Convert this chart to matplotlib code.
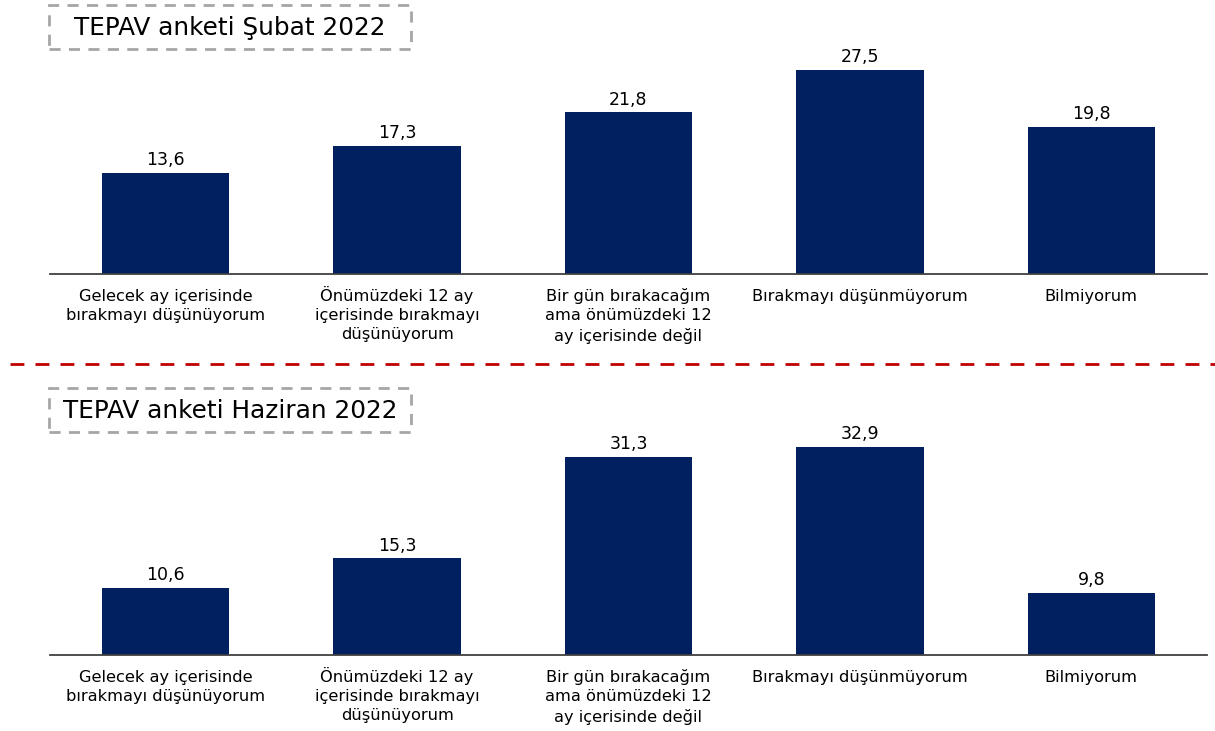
import matplotlib
matplotlib.use("Agg")
import matplotlib.pyplot as plt
from matplotlib.patches import Rectangle
from matplotlib.transforms import ScaledTranslation

# Survey answers (same categories in both panels)
categories = [
    "Gelecek ay içerisinde\nbırakmayı düşünüyorum",
    "Önümüzdeki 12 ay\niçerisinde bırakmayı\ndüşünüyorum",
    "Bir gün bırakacağım\nama önümüzdeki 12\nay içerisinde değil",
    "Bırakmayı düşünmüyorum",
    "Bilmiyorum",
]
values_feb = [13.6, 17.3, 21.8, 27.5, 19.8]
values_jun = [10.6, 15.3, 31.3, 32.9, 9.8]
titles = ["TEPAV anketi Şubat 2022", "TEPAV anketi Haziran 2022"]

BAR_COLOR = "#002060"
W, H = 1215, 731

fig = plt.figure(figsize=(W / 100, H / 100), dpi=100)


def fx(px):
    return px / W


def fy(py):
    # pixel row from top -> figure fraction from bottom
    return 1 - py / H


def panel(values, title, base_px, ymax, box_top):
    ax = fig.add_axes([fx(50), fy(base_px), fx(1157), 234 / H])
    x = range(len(values))
    bars = ax.bar(x, values, width=0.55, color=BAR_COLOR)
    ax.set_xlim(-0.5, len(values) - 0.5)
    ax.set_ylim(0, ymax)
    for b, v in zip(bars, values):
        ax.annotate(f"{v:.1f}".replace(".", ","),
                    (b.get_x() + b.get_width() / 2, v),
                    xytext=(0, 5.5), textcoords="offset points",
                    ha="center", va="baseline", fontsize=12.5, color="#000000")
    ax.set_xticks(list(x))
    labels = ax.set_xticklabels(categories, fontsize=11.7, linespacing=1.35,
                                va="top")
    ax.tick_params(axis="x", length=0, pad=11)
    # tall accents (Ö, ğ) in a first line push that label down; lift it back
    for lab in labels:
        first = lab.get_text().split("\n")[0]
        lift = 2.5 if "Ö" in first else (1.0 if "ğ" in first else 0)
        if lift:
            lab.set_transform(lab.get_transform()
                              + ScaledTranslation(0, lift / 72, fig.dpi_scale_trans))
    ax.set_yticks([])
    for s in ["top", "right", "left"]:
        ax.spines[s].set_visible(False)
    ax.spines["bottom"].set_color("#404040")
    ax.spines["bottom"].set_linewidth(1.3)

    # dashed title box
    fig.patches.append(Rectangle((fx(49), fy(box_top + 44)), fx(362), 44 / H,
                                 transform=fig.transFigure, fill=False,
                                 edgecolor="#A6A6A6", linewidth=2,
                                 linestyle=(0, (4, 3))))
    fig.text(fx(230), fy(box_top + 23), title, ha="center", va="center",
             fontsize=17.8, color="#000000")


panel(values_feb, titles[0], 274, 31.54, 5)
panel(values_jun, titles[1], 655, 37.0, 388)

# red separator between the two surveys
fig.add_artist(plt.Line2D([fx(10), fx(1215)], [fy(364), fy(364)],
                          transform=fig.transFigure, color="#C00000",
                          linewidth=2, linestyle=(0, (5, 4))))

fig.savefig("out.png", dpi=100)
